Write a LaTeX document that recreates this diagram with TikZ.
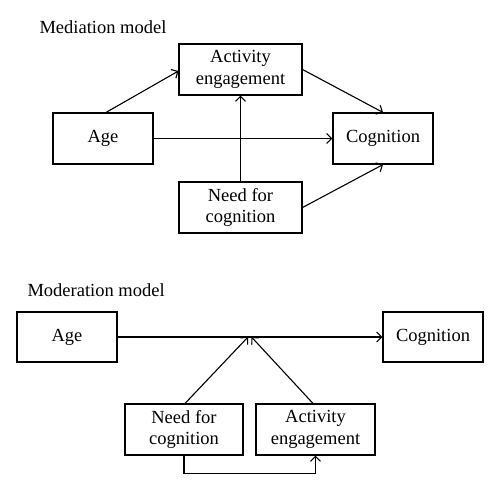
\documentclass[tikz,border=0pt]{standalone}
\usepackage{fontspec}
\setmainfont{Liberation Serif}
\usetikzlibrary{arrows.meta}
\begin{document}
\begin{tikzpicture}[x=1pt,y=-1pt,line width=1.1pt,
  box/.style={draw,line width=1.1pt,inner sep=0pt,align=center,font=\fontsize{18.5}{21.7}\selectfont},
  ttl/.style={anchor=base west,inner sep=0pt,font=\fontsize{18.5}{21.7}\selectfont},
  arr/.style={-{Straight Barb[length=5pt,width=10pt]}}]
\useasboundingbox (0,0) rectangle (500,491);
% Mediation model
\node[ttl] (t1) at (39,33) {Mediation model};
\node[box,minimum width=123pt,minimum height=51pt] (act) at (240.5,69.5) {Activity\\engagement};
\node[box,minimum width=100pt,minimum height=51pt] (age) at (103,138.5) {Age};
\node[box,minimum width=100pt,minimum height=51pt] (cog) at (383,138.5) {Cognition};
\node[box,minimum width=123pt,minimum height=51pt] (need) at (240.5,207.5) {Need for\\cognition};
\draw[arr] ([xshift=3pt]age.north) -- ([yshift=-1.5pt]act.west);
\draw[arr] (act.east) -- (cog.north);
\draw[arr] (age.east) -- (cog.west);
\draw[arr] (need.north) -- (act.south);
\draw[arr] (need.east) -- (cog.south);
% Moderation model
\node[ttl] (t2) at (27,296.5) {Moderation model};
\node[box,minimum width=100pt,minimum height=50pt] (age2) at (67,337) {Age};
\node[box,minimum width=100pt,minimum height=50pt] (cog2) at (433,337) {Cognition};
\node[box,minimum width=118pt,minimum height=51pt] (need2) at (184,429.5) {Need for\\cognition};
\node[box,minimum width=119pt,minimum height=51pt] (act2) at (315.5,429.5) {Activity\\engagement};
\coordinate (m) at (250,337);
\draw[arr] (age2.east) -- (cog2.west);
\draw[arr] ([xshift=1pt]need2.north) -- ([xshift=-2pt]m);
\draw[arr] ([xshift=-2.5pt]act2.north) -- ([xshift=1.5pt]m);
\draw[arr] (need2.south) -- ++(0,18) -| (act2.south);
\end{tikzpicture}
\end{document}
